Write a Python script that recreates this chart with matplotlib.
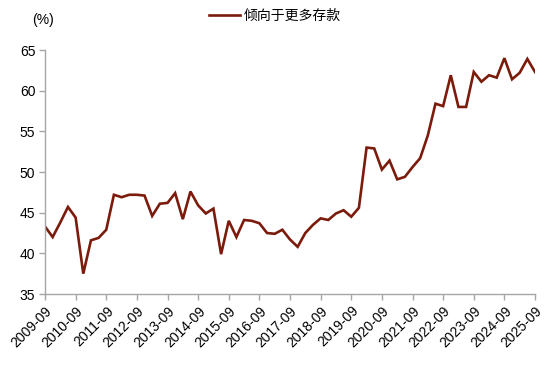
import matplotlib
matplotlib.use("Agg")
import matplotlib.pyplot as plt
from matplotlib.ticker import FixedLocator

plt.rcParams['font.family'] = ['Liberation Sans', 'Noto Sans CJK SC', 'DejaVu Sans']

series_name = "倾向于更多存款"
start_label = "2009-09"
tick_labels = ["2009-09", "2010-09", "2011-09", "2012-09", "2013-09", "2014-09",
               "2015-09", "2016-09", "2017-09", "2018-09", "2019-09", "2020-09",
               "2021-09", "2022-09", "2023-09", "2024-09", "2025-09"]
values = [43.3, 42.0, 43.8, 45.7, 44.4, 37.5, 41.6, 41.9, 42.9, 47.2,
          46.9, 47.2, 47.2, 47.1, 44.6, 46.1, 46.2, 47.4, 44.2, 47.6,
          45.9, 44.9, 45.5, 39.9, 44.0, 42.0, 44.1, 44.0, 43.7, 42.5,
          42.4, 42.9, 41.7, 40.8, 42.5, 43.5, 44.3, 44.1, 44.9, 45.3,
          44.5, 45.6, 53.0, 52.9, 50.3, 51.4, 49.1, 49.4, 50.6, 51.7,
          54.5, 58.4, 58.1, 61.9, 58.0, 58.0, 62.3, 61.1, 61.9, 61.6,
          64.0, 61.4, 62.2, 63.9, 62.3]
y_ticks = [35, 40, 45, 50, 55, 60, 65]

fig = plt.figure(figsize=(5.5, 3.67), dpi=100)
ax = fig.add_axes([45/550, 1-294/367, (535-45)/550, (294-50)/367])

x = list(range(len(values)))
line, = ax.plot(x, values, color='#7B1B0C', lw=1.9, solid_joinstyle='miter')

ax.set_xlim(0, len(values) - 1)
ax.set_ylim(35, 65)
ax.set_yticks(y_ticks)
ax.set_yticklabels([str(v) for v in y_ticks], fontsize=10)
ax.set_xticks(list(range(0, len(values), 4)))
ax.set_xticklabels(tick_labels, rotation=45, ha='right', rotation_mode='anchor', fontsize=10)

for s in ['top', 'right']:
    ax.spines[s].set_visible(False)
for s in ['left', 'bottom']:
    ax.spines[s].set_color('#A6A6A6')
    ax.spines[s].set_linewidth(1.0)
ax.tick_params(axis='both', color='#A6A6A6', length=4, width=1.0, labelcolor='black')
ax.tick_params(axis='x', pad=3)
ax.tick_params(axis='y', pad=3)

fig.text(32/550, 1-20/367, "(%)", fontsize=10, ha='left', va='center')
ax.legend([line], [series_name], loc='upper center', bbox_to_anchor=(0.47, 1.22),
          frameon=False, fontsize=10, handlelength=2.2, handletextpad=0.3,
          prop={'family': ['Noto Sans CJK SC'], 'size': 10})

fig.savefig("out.png", dpi=100)
